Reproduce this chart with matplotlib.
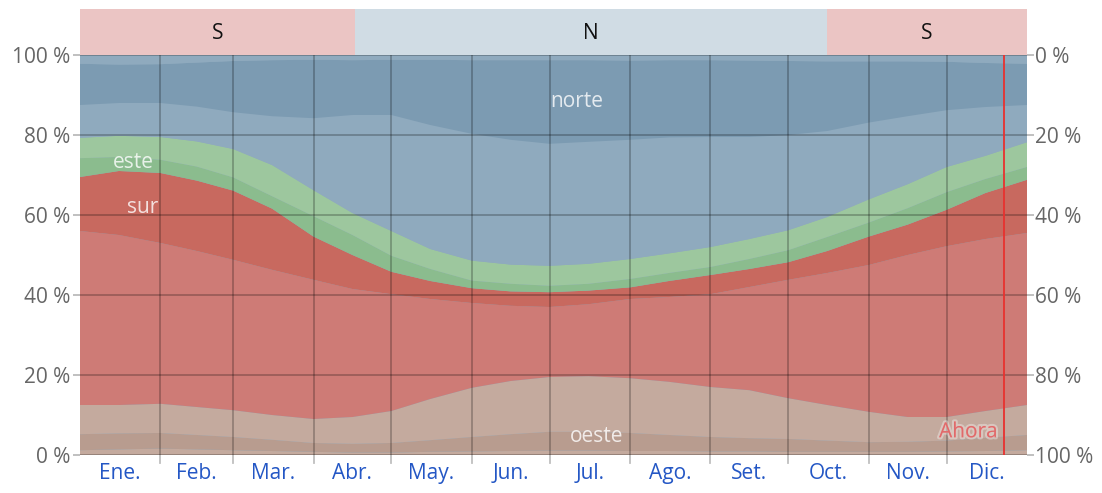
import matplotlib
matplotlib.use("Agg")
import matplotlib.pyplot as plt
import matplotlib.patheffects as pe

plt.rcParams["font.family"] = ["Open Sans", "DejaVu Sans"]

# Day of year for each sample (month starts and mid-months)
day_of_year = [0, 15, 31, 45, 59, 74, 90, 105, 120, 135, 151, 166, 181,
               196, 212, 227, 243, 258, 273, 288, 304, 319, 334, 349, 365]

# Percentage of hours by wind direction, stacked bottom -> top
oeste_nw = [1.2, 1.4, 1.6, 1.4, 1.2, 1.0, 0.8, 0.6, 0.6, 0.8, 0.9, 1.0, 1.1,
            1.1, 1.0, 1.0, 0.9, 0.9, 0.8, 0.8, 0.8, 0.8, 0.9, 1.0, 1.2]
oeste = [4.0, 4.0, 3.9, 3.6, 3.3, 2.8, 2.2, 2.2, 2.4, 2.9, 3.6, 4.2, 4.7,
         4.7, 4.5, 4.0, 3.6, 3.3, 3.2, 2.8, 2.4, 2.5, 2.7, 3.3, 3.8]
oeste_sw = [7.3, 7.1, 7.3, 7.0, 6.7, 6.2, 6.0, 6.7, 8.0, 10.3, 12.3, 13.3, 13.7,
            13.9, 13.7, 13.3, 12.5, 12.0, 10.2, 8.9, 7.6, 6.2, 5.9, 6.7, 7.5]
sur_sw = [43.5, 42.5, 40.2, 39.0, 37.6, 36.3, 34.8, 32.0, 29.2, 25.0, 21.2, 18.8, 17.5,
          18.0, 19.8, 21.2, 23.2, 25.8, 29.6, 33.0, 36.7, 40.5, 42.7, 43.0, 43.0]
sur = [13.5, 16.0, 17.5, 17.6, 17.3, 15.3, 10.8, 8.5, 5.6, 4.5, 3.7, 3.6, 3.7,
       3.4, 2.9, 4.0, 4.8, 4.5, 4.4, 5.5, 7.1, 7.6, 9.1, 11.5, 13.3]
este = [4.7, 3.5, 3.3, 3.5, 3.3, 3.1, 5.1, 5.0, 4.0, 3.0, 1.9, 1.9, 1.6,
        1.7, 2.1, 2.0, 2.0, 2.5, 3.0, 3.5, 3.5, 4.1, 4.4, 3.5, 3.2]
este_ne = [5.1, 5.3, 5.7, 6.3, 7.1, 7.8, 6.5, 5.5, 6.2, 5.0, 5.0, 4.8, 5.0,
           5.0, 5.0, 4.9, 5.0, 5.0, 5.0, 5.0, 5.8, 6.0, 6.3, 5.8, 6.2]
norte_ne = [8.2, 8.2, 8.5, 8.7, 9.2, 12.2, 18.0, 24.5, 29.0, 31.0, 31.7, 31.2, 30.5,
            30.5, 29.8, 29.0, 27.5, 25.5, 23.8, 21.5, 19.2, 17.0, 14.2, 12.2, 9.3]
norte = [10.3, 9.6, 9.7, 11.0, 12.8, 14.0, 14.6, 13.7, 13.8, 16.3, 18.4, 19.9, 20.9,
         20.4, 19.8, 19.3, 19.2, 19.1, 18.5, 17.4, 15.3, 13.7, 12.1, 11.0, 10.3]
norte_nw = [2.2, 2.4, 2.3, 2.0, 1.7, 1.5, 1.4, 1.3, 1.2, 1.2, 1.1, 1.1, 1.1,
            1.1, 1.2, 1.2, 1.3, 1.4, 1.5, 1.6, 1.7, 1.8, 1.9, 2.0, 2.2]

month_labels = ["Ene.", "Feb.", "Mar.", "Abr.", "May.", "Jun.",
                "Jul.", "Ago.", "Set.", "Oct.", "Nov.", "Dic."]
month_starts = [0, 31, 59, 90, 120, 151, 181, 212, 243, 273, 304, 334, 365]

# Dominant direction periods shown in the header band
season_labels = ["S", "N", "S"]
season_bounds = [0, 106, 288, 365]
now_day = 356

layers = [oeste_nw, oeste, oeste_sw, sur_sw, sur,
          este, este_ne, norte_ne, norte, norte_nw]
colors = ["#c4aa9e", "#b89c8f", "#c4aa9e", "#ce7b76", "#c8695f",
          "#8bbc8e", "#9dc79e", "#8faabe", "#7c9bb2", "#8faabe"]

W, H = 1102, 493
fig = plt.figure(figsize=(W / 100, H / 100), dpi=100)
ax = fig.add_axes([80 / W, 38 / H, 947 / W, 400 / H])
hx = fig.add_axes([80 / W, 438 / H, 947 / W, 46 / H])

ax.set_facecolor("#8faabe")
ax.stackplot(day_of_year, *layers, colors=colors, linewidth=0, zorder=1)
ax.set_xlim(0, 365)
ax.set_ylim(0, 100)

grid_kw = dict(color="black", alpha=0.25, linewidth=1.3, zorder=3)
for pct in range(0, 101, 20):
    ax.axhline(pct, **grid_kw)
for d in month_starts[1:-1]:
    ax.plot([d, d], [-2, 100], clip_on=False, **grid_kw)

for s in ax.spines.values():
    s.set_visible(False)

tick_fs = 15
ax.set_yticks(range(0, 101, 20))
ax.set_yticklabels([f"{p} %" for p in range(0, 101, 20)])
ax.tick_params(axis="y", which="major", length=5, width=1.3,
               color="#bbbbbb", labelcolor="#666666", labelsize=tick_fs, pad=2,
               right=True, labelright=False)
ax2 = ax.twinx()
ax2.set_ylim(100, 0)
ax2.set_yticks(range(0, 101, 20))
ax2.set_yticklabels([f"{p} %" for p in range(0, 101, 20)])
ax2.tick_params(axis="y", length=5, width=1.3, color="#bbbbbb",
                labelcolor="#666666", labelsize=tick_fs, pad=1)
for s in ax2.spines.values():
    s.set_visible(False)

centers = [(a + b) / 2 for a, b in zip(month_starts[:-1], month_starts[1:])]
ax.set_xticks(centers)
ax.set_xticklabels(month_labels)
ax.tick_params(axis="x", length=0, labelsize=tick_fs, labelcolor="#2457c5", pad=6)

# Series labels
lbl_kw = dict(color="white", alpha=0.8, fontsize=15, ha="center", va="center", zorder=5)
ax.text(191.5, 88.3, "norte", **lbl_kw)
ax.text(20.5, 73.0, "este", **lbl_kw)
ax.text(24.0, 61.8, "sur", **lbl_kw)
ax.text(199.0, 4.5, "oeste", **lbl_kw)

# Current date marker
ax.axvline(now_day, color="#e8312f", linewidth=1.3, zorder=4)
ax.text(now_day - 2.3, 5.8, "Ahora", color="#e06a6a", fontsize=15, ha="right",
        va="center", zorder=5,
        path_effects=[pe.withStroke(linewidth=3, foreground=(1, 1, 1, 0.35))])

# Header band
hx.set_xlim(0, 365)
hx.set_ylim(0, 1)
hx.axis("off")
band_colors = {"S": "#ebc5c4", "N": "#d0dce4"}
for lab, a, b in zip(season_labels, season_bounds[:-1], season_bounds[1:]):
    hx.axvspan(a, b, color=band_colors[lab], linewidth=0)
    hx.text((a + b) / 2, 0.47, lab, ha="center", va="center", fontsize=15,
            color="#111111")

fig.savefig("out.png", dpi=100)
